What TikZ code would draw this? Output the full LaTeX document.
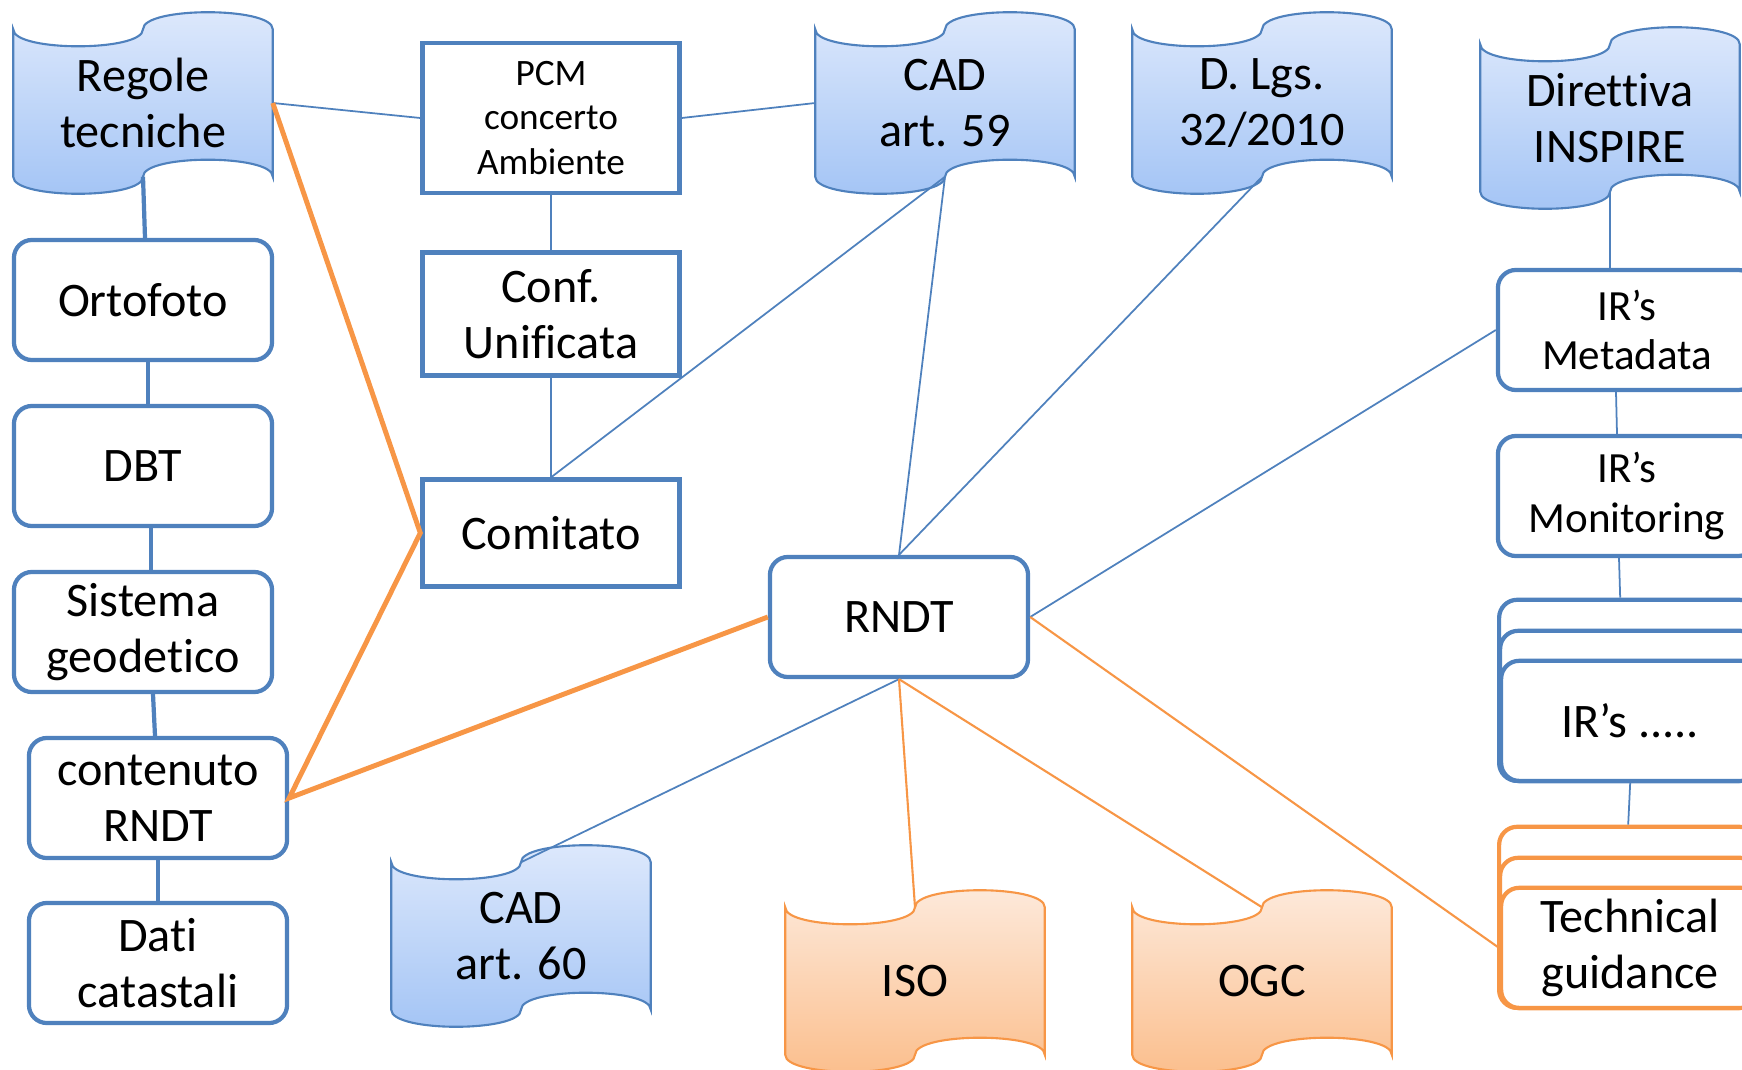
\documentclass[tikz,border=0pt]{standalone}
\usepackage{fontspec}
\setmainfont[Ligatures=NoCommon]{Carlito}
\usetikzlibrary{calc,backgrounds}
\definecolor{BoxBlue}{RGB}{79,129,189}
\definecolor{LinkOrange}{RGB}{247,150,70}
\definecolor{FlagTop}{RGB}{222,233,252}
\definecolor{FlagBot}{RGB}{163,196,245}
\definecolor{FlagTopO}{RGB}{253,234,220}
\definecolor{FlagBotO}{RGB}{251,190,140}
\newcommand{\txtL}{\fontsize{13.7}{15.8}\selectfont}
\newcommand{\txtM}{\fontsize{12.25}{14.2}\selectfont}
\newcommand{\txtS}{\fontsize{10.6}{12.6}\selectfont}
\tikzstyle{rbox} = [rectangle, rounded corners=0.18cm, draw=BoxBlue, line width=1.2pt, fill=white, minimum width=2.58cm, minimum height=1.2cm, align=center, inner sep=0pt, font=\txtL]
\tikzstyle{sbox} = [rectangle, draw=BoxBlue, line width=1.2pt, fill=white, minimum width=2.57cm, align=center, inner sep=0pt, font=\txtL]
\tikzstyle{flag} = [rectangle, minimum width=2.58cm, minimum height=1.46cm, align=center, inner sep=0pt, font=\txtL]
\tikzstyle{flagblue} = [draw=BoxBlue, line width=0.6pt, top color=FlagTop, bottom color=FlagBot]
\tikzstyle{flagorange} = [draw=LinkOrange, line width=0.6pt, top color=FlagTopO, bottom color=FlagBotO]
\tikzstyle{lnk} = [draw=BoxBlue, line width=0.5pt]
\tikzstyle{lnkt} = [draw=BoxBlue, line width=1.2pt]
\tikzstyle{olnk} = [draw=LinkOrange, line width=0.6pt]
\tikzstyle{olnkt} = [draw=LinkOrange, line width=1.4pt]

\begin{document}
\begin{tikzpicture}[x=0.01cm, y=-0.01cm]
    \useasboundingbox (0,0) rectangle (1742,1070);

    \node[flag] (regole) at (143,103) {Regole\\tecniche};
    \node[sbox, minimum height=1.5cm, font=\txtS] (pcm) at (551,118) {PCM\\concerto\\Ambiente};
    \node[sbox, minimum height=1.23cm] (conf) at (551,314) {Conf.\\Unificata};
    \node[sbox, minimum height=1.07cm] (comitato) at (551,533) {Comitato};
    \node[flag] (cad59) at (945,103) {CAD\\art. 59};
    \node[flag] (dlgs) at (1262,103) {D. Lgs.\\32/2010};
    \node[flag] (direttiva) at (1610,118) {Direttiva\\INSPIRE};

    \node[rbox] (ortofoto) at (143,300) {Ortofoto};
    \node[rbox] (dbt) at (143,466) {DBT};
    \node[rbox] (sistema) at (143,632) {Sistema\\geodetico};
    \node[rbox] (contenuto) at (158,798) {contenuto\\RNDT};
    \node[rbox] (dati) at (158,963) {Dati\\catastali};

    \node[rbox] (rndt) at (899,617) {RNDT};

    \node[rbox, font=\txtM] (metadata) at (1627,330) {IR’s\\Metadata};
    \node[rbox, font=\txtM] (monitoring) at (1627,496) {IR’s\\Monitoring};
    \node[rbox, anchor=south west, minimum height=1.81cm] (irdotsC) at (1497,783) {};
    \node[rbox, anchor=south west, minimum height=1.5cm] (irdotsB) at (1498,783) {};
    \node[rbox, anchor=south west] (irdots) at (1499,783) {IR’s .....};
    \node[rbox, draw=LinkOrange, anchor=south west, minimum height=1.81cm] (techC) at (1497,1010) {};
    \node[rbox, draw=LinkOrange, anchor=south west, minimum height=1.5cm] (techB) at (1498,1010) {};
    \node[rbox, draw=LinkOrange, anchor=south west] (tech) at (1499,1010) {Technical\\guidance};

    \node[flag] (cad60) at (521,936) {CAD\\art. 60};
    \node[flag] (iso) at (915,981) {ISO};
    \node[flag] (ogc) at (1262,981) {OGC};

    \begin{pgfonlayer}{background}
        \foreach \n/\sty in {regole/flagblue, cad59/flagblue, dlgs/flagblue, direttiva/flagblue, cad60/flagblue, iso/flagorange, ogc/flagorange}
            \path[\sty] (\n.north west) .. controls +(0,-0.227cm) and +(0,-0.227cm) .. (\n.north)
                .. controls +(0,0.227cm) and +(0,0.227cm) .. (\n.north east) -- (\n.south east)
                .. controls +(0,0.227cm) and +(0,0.227cm) .. (\n.south)
                .. controls +(0,-0.227cm) and +(0,-0.227cm) .. (\n.south west) -- cycle;
    \end{pgfonlayer}

    \draw[lnk] (regole.east) -- (pcm.west);
    \draw[lnk] (pcm.east) -- (cad59.west);
    \draw[lnk] (pcm.south) -- (conf.north);
    \draw[lnk] (conf.south) -- (comitato.north);
    \draw[lnk] (comitato.north) -- (cad59.south);
    \draw[lnk] (rndt.north) -- (cad59.south);
    \draw[lnk] (rndt.north) -- (dlgs.south);
    \draw[lnk] (rndt.east) -- (metadata.west);
    \draw[lnk] (rndt.south) -- (cad60.north);
    \draw[lnk] (direttiva.south) -- (direttiva.south |- metadata.north);
    \draw[lnk] ($(metadata.south)+(-11,0)$) -- ($(monitoring.north)+(-10,0)$);
    \draw[lnk] ($(monitoring.south)+(-8,0)$) -- ($(irdotsC.north)+(-8,0)$);
    \draw[lnk] (irdots.south) -- (techC.north);
    \draw[olnk] (rndt.south) -- (iso.north);
    \draw[olnk] (rndt.south) -- (ogc.north);
    \draw[olnk] (rndt.east) -- (tech.west);

    \draw[lnkt] (regole.south) -- ($(ortofoto.north)+(2,0)$);
    \draw[lnkt] ($(ortofoto.south)+(5,0)$) -- ($(dbt.north)+(5,0)$);
    \draw[lnkt] ($(dbt.south)+(8,0)$) -- ($(sistema.north)+(8,0)$);
    \draw[lnkt] ($(sistema.south)+(10,0)$) -- ($(contenuto.north)+(-3,0)$);
    \draw[lnkt] (contenuto.south) -- (dati.north);

    \draw[olnkt] (regole.east) -- (comitato.west) -- (contenuto.east) -- (rndt.west);
\end{tikzpicture}
\end{document}
